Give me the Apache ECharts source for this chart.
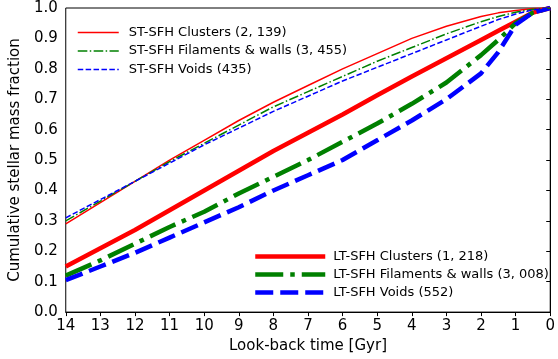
<!DOCTYPE html>
<html>
<head>
<meta charset="utf-8">
<script src="https://cdn.jsdelivr.net/npm/echarts@6/dist/echarts.min.js"></script>
<style>
  html, body { margin: 0; padding: 0; background: #fff; }
  #chart { width: 558px; height: 359px; }
</style>
</head>
<body>
<div id="chart"></div>
<script>
// Look-back time sample points (Gyr)
const lookBack = [14, 13, 12, 11, 10, 9, 8, 7, 6, 5, 4, 3, 2, 1.5, 1, 0.5, 0];

// Short-timescale SFH, cumulative stellar mass fraction
const stClusters   = [0.29, 0.36, 0.43, 0.50, 0.565, 0.63, 0.69, 0.745, 0.80, 0.85, 0.90, 0.94, 0.972, 0.984, 0.992, 0.998, 1.0];
const stFilaments  = [0.30, 0.365, 0.43, 0.495, 0.555, 0.615, 0.675, 0.725, 0.775, 0.825, 0.87, 0.915, 0.955, 0.972, 0.986, 0.996, 1.0];
const stVoids      = [0.31, 0.37, 0.43, 0.49, 0.55, 0.605, 0.66, 0.71, 0.76, 0.805, 0.85, 0.895, 0.94, 0.962, 0.98, 0.994, 1.0];

// Long-timescale SFH
const ltClusters   = [0.15, 0.21, 0.27, 0.335, 0.40, 0.465, 0.53, 0.59, 0.65, 0.713, 0.775, 0.835, 0.895, 0.925, 0.955, 0.985, 1.0];
const ltFilaments  = [0.12, 0.17, 0.225, 0.28, 0.33, 0.39, 0.445, 0.50, 0.56, 0.62, 0.685, 0.755, 0.845, 0.895, 0.95, 0.985, 1.0];
const ltVoids      = [0.105, 0.15, 0.195, 0.245, 0.295, 0.345, 0.40, 0.45, 0.50, 0.565, 0.63, 0.70, 0.785, 0.855, 0.945, 0.985, 1.0];

const stNames = ['ST-SFH Clusters (2, 139)', 'ST-SFH Filaments & walls (3, 455)', 'ST-SFH Voids (435)'];
const ltNames = ['LT-SFH Clusters (1, 218)', 'LT-SFH Filaments & walls (3, 008)', 'LT-SFH Voids (552)'];

const RED = '#ff0000', GREEN = '#008000', BLUE = '#0000ff';
const FONT = 'DejaVu Sans';

function pairs(vals) { return lookBack.map((t, i) => [t, vals[i]]); }

function line(name, vals, color, width, dash) {
  return {
    name: name,
    type: 'line',
    data: pairs(vals),
    symbol: 'none',
    smooth: false,
    color: color,
    lineStyle: { color: color, width: width, type: dash, cap: 'butt' },
    z: width > 2 ? 3 : 4
  };
}

const thin = 1.5, thick = 4.5;
const series = [
  line(ltNames[0], ltClusters, RED, thick, 'solid'),
  line(ltNames[1], ltFilaments, GREEN, thick, [28, 7, 4.5, 7]),
  line(ltNames[2], ltVoids, BLUE, thick, [18, 7]),
  line(stNames[0], stClusters, RED, thin, 'solid'),
  line(stNames[1], stFilaments, GREEN, thin, [9.6, 2.4, 1.5, 2.4]),
  line(stNames[2], stVoids, BLUE, thin, [5.5, 2.4])
];

const chart = echarts.init(document.getElementById('chart'), null, { renderer: 'canvas' });
chart.setOption({
  animation: false,
  backgroundColor: '#ffffff',
  grid: {
    left: 62, right: 3, top: 8, bottom: 45,
    show: true, borderColor: '#000', borderWidth: 1, backgroundColor: 'transparent'
  },
  legend: [
    {
      data: stNames,
      orient: 'vertical',
      left: 72, top: 21,
      itemWidth: 41, itemHeight: 14, itemGap: 5.5,
      itemStyle: { opacity: 0 },
      lineStyle: { width: thin },
      textStyle: { fontFamily: FONT, fontSize: 13, color: '#000', padding: [0, 0, 0, 5] }
    },
    {
      data: ltNames,
      orient: 'vertical',
      left: 248, top: 245,
      itemWidth: 70, itemHeight: 14, itemGap: 5,
      itemStyle: { opacity: 0 },
      lineStyle: { width: thick },
      textStyle: { fontFamily: FONT, fontSize: 13, color: '#000', padding: [0, 0, 0, 3] }
    }
  ],
  xAxis: {
    type: 'value',
    inverse: true,
    min: 0, max: 14, interval: 1,
    name: 'Look-back time [Gyr]',
    nameLocation: 'middle',
    nameGap: 25,
    nameTextStyle: { fontFamily: FONT, fontSize: 15, color: '#000' },
    axisLine: { show: true, lineStyle: { color: '#000', width: 1 } },
    axisTick: { show: true, length: 4, lineStyle: { color: '#000' } },
    axisLabel: { fontFamily: FONT, fontSize: 15, color: '#000', margin: 7 },
    splitLine: { show: false }
  },
  yAxis: {
    type: 'value',
    min: 0, max: 1, interval: 0.1,
    name: 'Cumulative stellar mass fraction',
    nameLocation: 'middle',
    nameGap: 40,
    nameTextStyle: { fontFamily: FONT, fontSize: 15, color: '#000' },
    axisLine: { show: true, lineStyle: { color: '#000', width: 1 } },
    axisTick: { show: true, length: 4, lineStyle: { color: '#000' } },
    axisLabel: {
      fontFamily: FONT, fontSize: 15, color: '#000', margin: 8,
      formatter: v => v.toFixed(1)
    },
    splitLine: { show: false }
  },
  series: series
});
</script>
</body>
</html>
